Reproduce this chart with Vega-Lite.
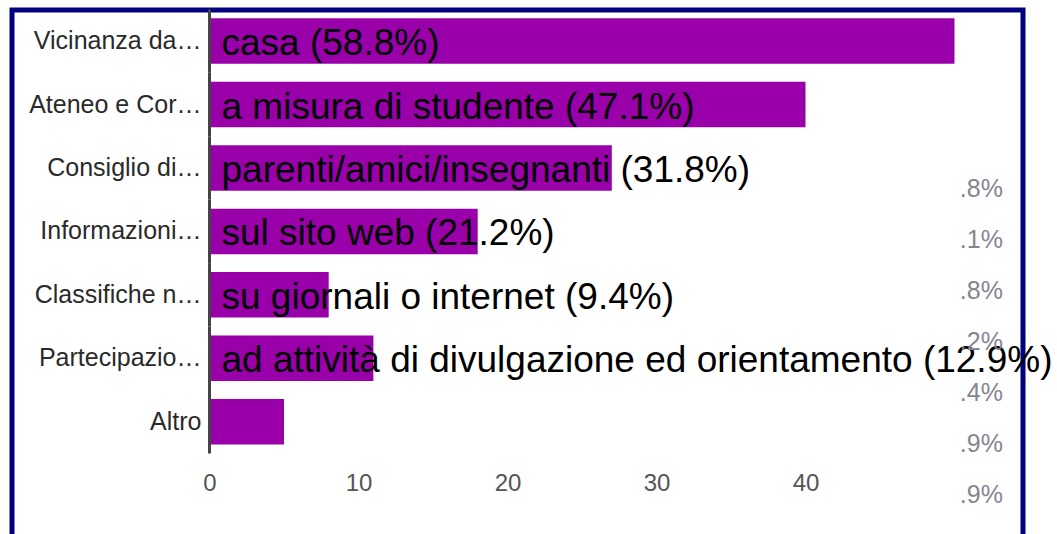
{
  "$schema": "https://vega.github.io/schema/vega-lite/v6.json",
  "autosize": "none",
  "width": 1011,
  "height": 524,
  "padding": {"left": 12, "top": 10, "right": 34, "bottom": 0},
  "background": "white",
  "config": {
    "font": "Liberation Sans",
    "view": {"stroke": "#000080", "strokeWidth": 5, "strokeDash": [1535, 1011, 524]}
  },
  "data": {
    "values": [
      {"voce": "Vicinanza da…", "n": 50, "testo": "casa (58.8%)", "coda": ".8%"},
      {"voce": "Ateneo e Cor…", "n": 40, "testo": "a misura di studente (47.1%)", "coda": ".1%"},
      {"voce": "Consiglio di…", "n": 27, "testo": "parenti/amici/insegnanti (31.8%)", "coda": ".8%"},
      {"voce": "Informazioni…", "n": 18, "testo": "sul sito web (21.2%)", "coda": ".2%"},
      {"voce": "Classifiche n…", "n": 8, "testo": "su giornali o internet (9.4%)", "coda": ".4%"},
      {"voce": "Partecipazio…", "n": 11, "testo": "ad attività di divulgazione ed orientamento (12.9%)", "coda": ".9%"},
      {"voce": "Altro", "n": 5, "testo": "", "coda": ".9%"}
    ]
  },
  "resolve": {"scale": {"y": "independent"}},
  "layer": [
    {
      "encoding": {
        "y": {
          "field": "voce", "type": "nominal", "sort": null,
          "scale": {"type": "band", "paddingInner": 0.283, "paddingOuter": 0.7707, "align": 0.0849, "round": false},
          "axis": {"title": null, "domain": false, "ticks": false, "tickSize": 0, "grid": false, "offset": -189, "labelPadding": 0, "labelFontSize": 25, "labelColor": "#2a2a2a", "labelLimit": 300, "labelFont": "Liberation Sans"}
        }
      },
      "layer": [
        {
          "mark": {"type": "bar", "color": "#9900aa"},
          "encoding": {
            "x": {
              "field": "n", "type": "quantitative",
              "scale": {"domain": [-13.255, 54.597], "nice": false, "zero": false},
              "axis": {"title": null, "values": [0, 10, 20, 30, 40], "domain": false, "ticks": false, "tickSize": 0, "grid": false, "offset": -62.5, "labelPadding": 0, "labelFontSize": 24, "labelColor": "#555", "labelFont": "Liberation Sans"}
            },
            "x2": {"datum": 0}
          }
        },
        {
          "mark": {"type": "tick", "color": "#444", "size": 63.45, "thickness": 3, "opacity": 1},
          "encoding": {"x": {"datum": 0}}
        },
        {
          "mark": {"type": "text", "align": "left", "baseline": "alphabetic", "dx": 12, "dy": 14, "fontSize": 37, "color": "#000", "font": "Liberation Sans"},
          "encoding": {"x": {"datum": 0}, "text": {"field": "testo"}}
        }
      ]
    },
    {
      "mark": {"type": "text", "align": "right", "baseline": "alphabetic", "dy": 9, "fontSize": 25, "color": "#858590", "font": "Liberation Sans"},
      "encoding": {
        "x": {"datum": 53.25},
        "y": {
          "field": "voce", "type": "nominal", "sort": null,
          "scale": {"type": "point", "range": [178, 484], "padding": 0, "round": false},
          "axis": null
        },
        "text": {"field": "coda"}
      }
    }
  ]
}
